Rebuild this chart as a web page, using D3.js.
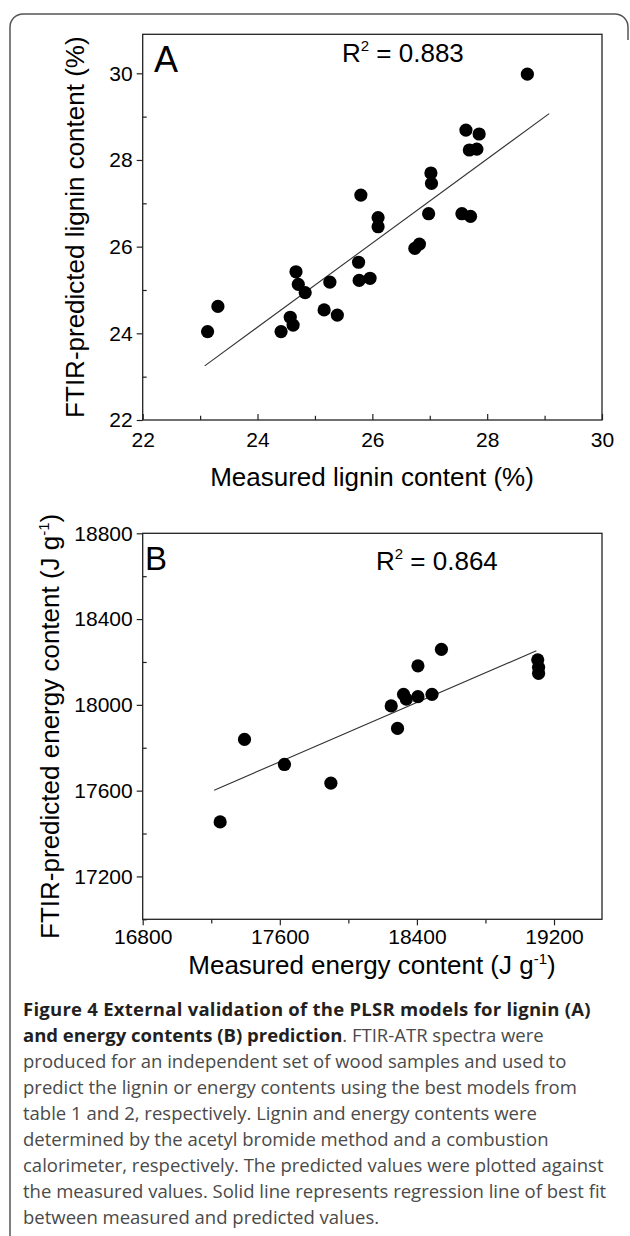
<!DOCTYPE html>
<html>
<head>
<meta charset="utf-8">
<script src="https://cdn.jsdelivr.net/npm/d3@7"></script>
<style>
  html, body { margin: 0; padding: 0; background: #fff; }
  svg { display: block; }
  .axis text { font-family: "Liberation Sans", Arial, sans-serif; fill: #000; }
  .axis line { stroke: #222; stroke-width: 1.2; }
  .axis .domain { display: none; }
</style>
</head>
<body>
<svg id="fig" width="630" height="1236"></svg>
<script>
// Panel A: lignin content (%), measured vs FTIR-predicted
const ligninMeasured  = [23.13, 23.31, 24.41, 24.57, 24.62, 24.67, 24.71, 24.83, 25.16, 25.39,
                         25.26, 25.76, 25.77, 25.96, 25.80, 26.10, 26.10, 26.74, 26.82, 26.98,
                         27.02, 27.03, 27.56, 27.71, 27.63, 27.86, 27.69, 27.82, 28.70];
const ligninPredicted = [24.04, 24.62, 24.04, 24.37, 24.19, 25.42, 25.13, 24.94, 24.54, 24.42,
                         25.18, 25.64, 25.22, 25.27, 27.19, 26.67, 26.46, 25.96, 26.06, 26.76,
                         27.70, 27.46, 26.76, 26.70, 28.69, 28.60, 28.23, 28.25, 29.98];
const ligninFitX = [23.08, 29.08];
const ligninFitY = [23.25, 29.07];
const ligninR2 = '0.883';
const ligninMajor = [22, 24, 26, 28, 30];
const ligninMinor = [23, 25, 27, 29];

// Panel B: energy content (J g-1), measured vs FTIR-predicted
const energyMeasured  = [17252, 17394, 17627, 17898, 18250, 18287, 18322, 18338, 18406, 18488,
                         18406, 18543, 19105, 19110, 19110];
const energyPredicted = [17454, 17839, 17722, 17635, 17995, 17890, 18049, 18027, 18038, 18049,
                         18182, 18259, 18210, 18175, 18147];
const energyFitX = [17217, 19097];
const energyFitY = [17602, 18252];
const energyR2 = '0.864';
const energyXMajor = [16800, 17600, 18400, 19200];
const energyXMinor = [17200, 18000, 18800];
const energyYMajor = [17200, 17600, 18000, 18400, 18800];
const energyYMinor = [17000, 17400, 17800, 18200, 18600];

const captionBold = ['Figure 4 External validation of the PLSR models for lignin (A)',
                     'and energy contents (B) prediction'];
const captionLines = [
  '. FTIR-ATR spectra were',
  'produced for an independent set of wood samples and used to',
  'predict the lignin or energy contents using the best models from',
  'table 1 and 2, respectively. Lignin and energy contents were',
  'determined by the acetyl bromide method and a combustion',
  'calorimeter, respectively. The predicted values were plotted against',
  'the measured values. Solid line represents regression line of best fit',
  'between measured and predicted values.'
];

const svg = d3.select('#fig');
const FONT = '"Liberation Sans", Arial, sans-serif';
const fmt = d3.format('d');

// outer caption box (only top and left edges are visible)
svg.append('path')
  .attr('d', 'M10,1236 V27 A13,13 0 0 1 23,14 H615 A13,13 0 0 1 628,27 V40')
  .attr('fill', 'none')
  .attr('stroke', '#555')
  .attr('stroke-width', 1.5);

function drawPanel(cfg) {
  const x = d3.scaleLinear().domain(cfg.xDomain).range([142.7, 602]);
  const y = d3.scaleLinear().domain(cfg.yDomain).range([cfg.bottom, cfg.top]);
  const g = svg.append('g');

  // y axis: major ticks outward, minor inward
  g.append('g').attr('class', 'axis')
    .attr('transform', `translate(${x.range()[0]},0)`)
    .call(d3.axisLeft(y).tickValues(cfg.yMajor).tickFormat(fmt).tickSize(6).tickPadding(4).tickSizeOuter(0))
    .selectAll('text').style('font-size', '21px');
  g.append('g').attr('class', 'axis')
    .attr('transform', `translate(${x.range()[0]},0)`)
    .call(d3.axisLeft(y).tickValues(cfg.yMinor).tickSize(-4).tickFormat('').tickSizeOuter(0));

  // x axis
  g.append('g').attr('class', 'axis')
    .attr('transform', `translate(0,${cfg.bottom})`)
    .call(d3.axisBottom(x).tickValues(cfg.xMajor).tickFormat(fmt).tickSize(cfg.xTick).tickPadding(cfg.xPad).tickSizeOuter(0))
    .selectAll('text').style('font-size', '21px');
  g.append('g').attr('class', 'axis')
    .attr('transform', `translate(0,${cfg.bottom})`)
    .call(d3.axisBottom(x).tickValues(cfg.xMinor).tickSize(cfg.xTick * 0.7).tickFormat('').tickSizeOuter(0));

  // plot frame
  g.append('rect')
    .attr('x', x.range()[0]).attr('y', cfg.top)
    .attr('width', x.range()[1] - x.range()[0])
    .attr('height', cfg.bottom - cfg.top)
    .attr('fill', 'none').attr('stroke', '#222').attr('stroke-width', 1.3);

  // regression line
  g.append('line')
    .attr('x1', x(cfg.fitX[0])).attr('y1', y(cfg.fitY[0]))
    .attr('x2', x(cfg.fitX[1])).attr('y2', y(cfg.fitY[1]))
    .attr('stroke', '#333').attr('stroke-width', 1.1);

  // points
  g.selectAll('circle.pt')
    .data(cfg.xs.map((v, i) => [v, cfg.ys[i]]))
    .join('circle')
    .attr('class', 'pt')
    .attr('cx', d => x(d[0]))
    .attr('cy', d => y(d[1]))
    .attr('r', 6.6)
    .attr('fill', '#000');

  // panel letter
  g.append('text')
    .attr('x', cfg.letterX).attr('y', cfg.letterY)
    .style('font-family', FONT).style('font-size', cfg.letterSize + 'px')
    .text(cfg.letter);

  // R squared
  const r2 = g.append('text')
    .attr('x', cfg.r2X).attr('y', cfg.r2Y)
    .style('font-family', FONT).style('font-size', '26px');
  r2.append('tspan').text('R');
  r2.append('tspan').attr('dy', -11).style('font-size', '15px').text('2');
  r2.append('tspan').attr('dy', 11).text(' = ' + cfg.r2);

  // axis titles
  const xt = g.append('text')
    .attr('x', 372).attr('y', cfg.xTitleY)
    .attr('text-anchor', 'middle')
    .style('font-family', FONT).style('font-size', '26px');
  cfg.xTitle(xt);

  const yt = g.append('text')
    .attr('transform', `translate(${cfg.yTitleX},${(cfg.top + cfg.bottom) / 2}) rotate(-90)`)
    .attr('text-anchor', 'middle')
    .style('font-family', FONT).style('font-size', '26px');
  cfg.yTitle(yt);
}

function unitTitle(sel, lead) {
  sel.append('tspan').text(lead + ' (J g');
  sel.append('tspan').attr('dy', -10).style('font-size', '15px').text('-1');
  sel.append('tspan').attr('dy', 10).text(')');
}

drawPanel({
  xDomain: [22, 30], yDomain: [22, 30.9], top: 34.3, bottom: 420,
  xMajor: ligninMajor, xMinor: ligninMinor, yMajor: ligninMajor, yMinor: ligninMinor,
  xTick: -6, xPad: 12,
  xs: ligninMeasured, ys: ligninPredicted, fitX: ligninFitX, fitY: ligninFitY,
  letter: 'A', letterX: 154, letterY: 71.7, letterSize: 36,
  r2: ligninR2, r2X: 342, r2Y: 62,
  xTitleY: 486, yTitleX: 84,
  xTitle: s => s.text('Measured lignin content (%)'),
  yTitle: s => s.text('FTIR-predicted lignin content (%)')
});

drawPanel({
  xDomain: [16800, 19480], yDomain: [17000, 18800], top: 533.3, bottom: 919.3,
  xMajor: energyXMajor, xMinor: energyXMinor, yMajor: energyYMajor, yMinor: energyYMinor,
  xTick: 6, xPad: 4,
  xs: energyMeasured, ys: energyPredicted, fitX: energyFitX, fitY: energyFitY,
  letter: 'B', letterX: 145, letterY: 570, letterSize: 33,
  r2: energyR2, r2X: 376, r2Y: 570,
  xTitleY: 974, yTitleX: 59,
  xTitle: s => unitTitle(s, 'Measured energy content'),
  yTitle: s => unitTitle(s, 'FTIR-predicted energy content')
});

// caption
const cap = svg.append('g')
  .style('font-family', '"Open Sans", "Noto Sans", sans-serif')
  .style('font-size', '18.5px');
cap.append('text').attr('x', 23).attr('y', 1016)
  .style('font-weight', 'bold').style('letter-spacing', '0.25px')
  .style('fill', '#231f20').text(captionBold[0]);
const second = cap.append('text').attr('x', 23).attr('y', 1042);
second.append('tspan').style('font-weight', 'bold').style('fill', '#231f20').text(captionBold[1]);
second.append('tspan').style('fill', '#4a4a4a').text(captionLines[0]);
captionLines.slice(1).forEach((line, i) => {
  cap.append('text')
    .attr('x', 23).attr('y', 1068 + i * 26)
    .style('fill', '#4a4a4a')
    .text(line);
});
</script>
</body>
</html>
